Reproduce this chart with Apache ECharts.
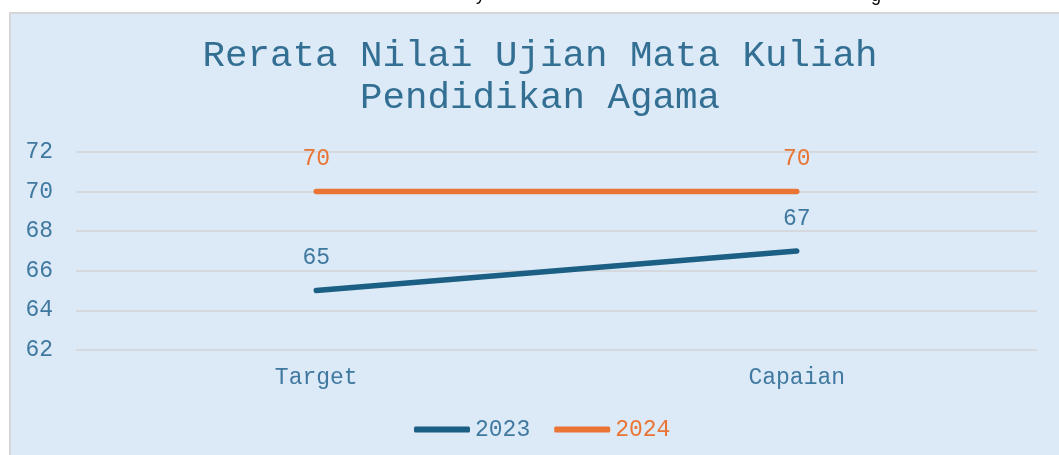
<!DOCTYPE html>
<html>
<head>
<meta charset="utf-8">
<script src="https://cdn.jsdelivr.net/npm/echarts@6/dist/echarts.min.js"></script>
<style>
  html, body { margin: 0; padding: 0; background: #fff; }
  #chart { width: 1059px; height: 455px; }
</style>
</head>
<body>
<div id="chart"></div>
<script>
// data
let categories = ['Target', 'Capaian']
let nilai2023 = [65, 67]
let nilai2024 = [70, 70]
let seriesNames = ['2023', '2024']

const mono = 'Liberation Mono'
const blue = '#1b5f84'
const orange = '#ea7434'
const textBlue = '#4079a0'

let chart = echarts.init(document.getElementById('chart'), null, {renderer: 'canvas'})

let option = {
    animation: false,
    graphic: [
        // kotak latar belakang
        {
            type: 'rect', z: -10, silent: true,
            shape: {x: 10, y: 13, width: 1060, height: 450},
            style: {fill: '#dce9f6', stroke: '#d6d6d6', lineWidth: 2}
        },
        // potongan teks di atas
        {type: 'text', left: 476, top: -14, style: {text: 'y', font: '18px Liberation Sans', fill: '#000'}},
        {type: 'text', left: 871, top: -13, style: {text: 'g', font: '18px Liberation Sans', fill: '#000'}}
    ],
    title: {
        text: 'Rerata Nilai Ujian Mata Kuliah\nPendidikan Agama',
        left: 535,
        textAlign: 'center',
        top: 30,
        textStyle: {
            fontFamily: mono, fontSize: 37.5, fontWeight: 'normal',
            color: '#326f93', lineHeight: 42
        }
    },
    legend: {
        left: 414,
        top: 418,
        padding: 0,
        icon: 'roundRect',
        itemWidth: 56,
        itemHeight: 6,
        itemGap: 24,
        textStyle: {fontFamily: mono, fontSize: 23},
        data: [
            {name: seriesNames[0], itemStyle: {color: blue}, textStyle: {color: textBlue}},
            {name: seriesNames[1], itemStyle: {color: orange}, textStyle: {color: orange}}
        ]
    },
    grid: {left: 76, right: 22, top: 152, bottom: 105},
    xAxis: {
        type: 'category',
        data: categories,
        boundaryGap: true,
        axisLine: {show: false},
        axisTick: {show: false},
        axisLabel: {fontFamily: mono, fontSize: 23, color: textBlue, margin: 16}
    },
    yAxis: {
        type: 'value',
        min: 62,
        max: 72,
        interval: 2,
        axisLine: {show: false},
        axisTick: {show: false},
        splitLine: {lineStyle: {color: '#d5d8dc', width: 2}},
        axisLabel: {fontFamily: mono, fontSize: 23, color: textBlue, margin: 23}
    },
    series: [
        {
            name: seriesNames[0],
            type: 'line',
            data: nilai2023,
            symbol: 'circle',
            symbolSize: 2,
            showSymbol: true,
            itemStyle: {color: 'rgba(0,0,0,0)', borderWidth: 0},
            lineStyle: {width: 5.5, cap: 'round', color: blue},
            label: {
                show: true, position: 'top', distance: 20,
                fontFamily: mono, fontSize: 23, color: textBlue, lineHeight: 23
            }
        },
        {
            name: seriesNames[1],
            type: 'line',
            data: nilai2024,
            symbol: 'circle',
            symbolSize: 2,
            showSymbol: true,
            itemStyle: {color: 'rgba(0,0,0,0)', borderWidth: 0},
            lineStyle: {width: 5.5, cap: 'round', color: orange},
            label: {
                show: true, position: 'top', distance: 20,
                fontFamily: mono, fontSize: 23, color: orange, lineHeight: 23
            }
        }
    ]
}

chart.setOption(option)
</script>
</body>
</html>
